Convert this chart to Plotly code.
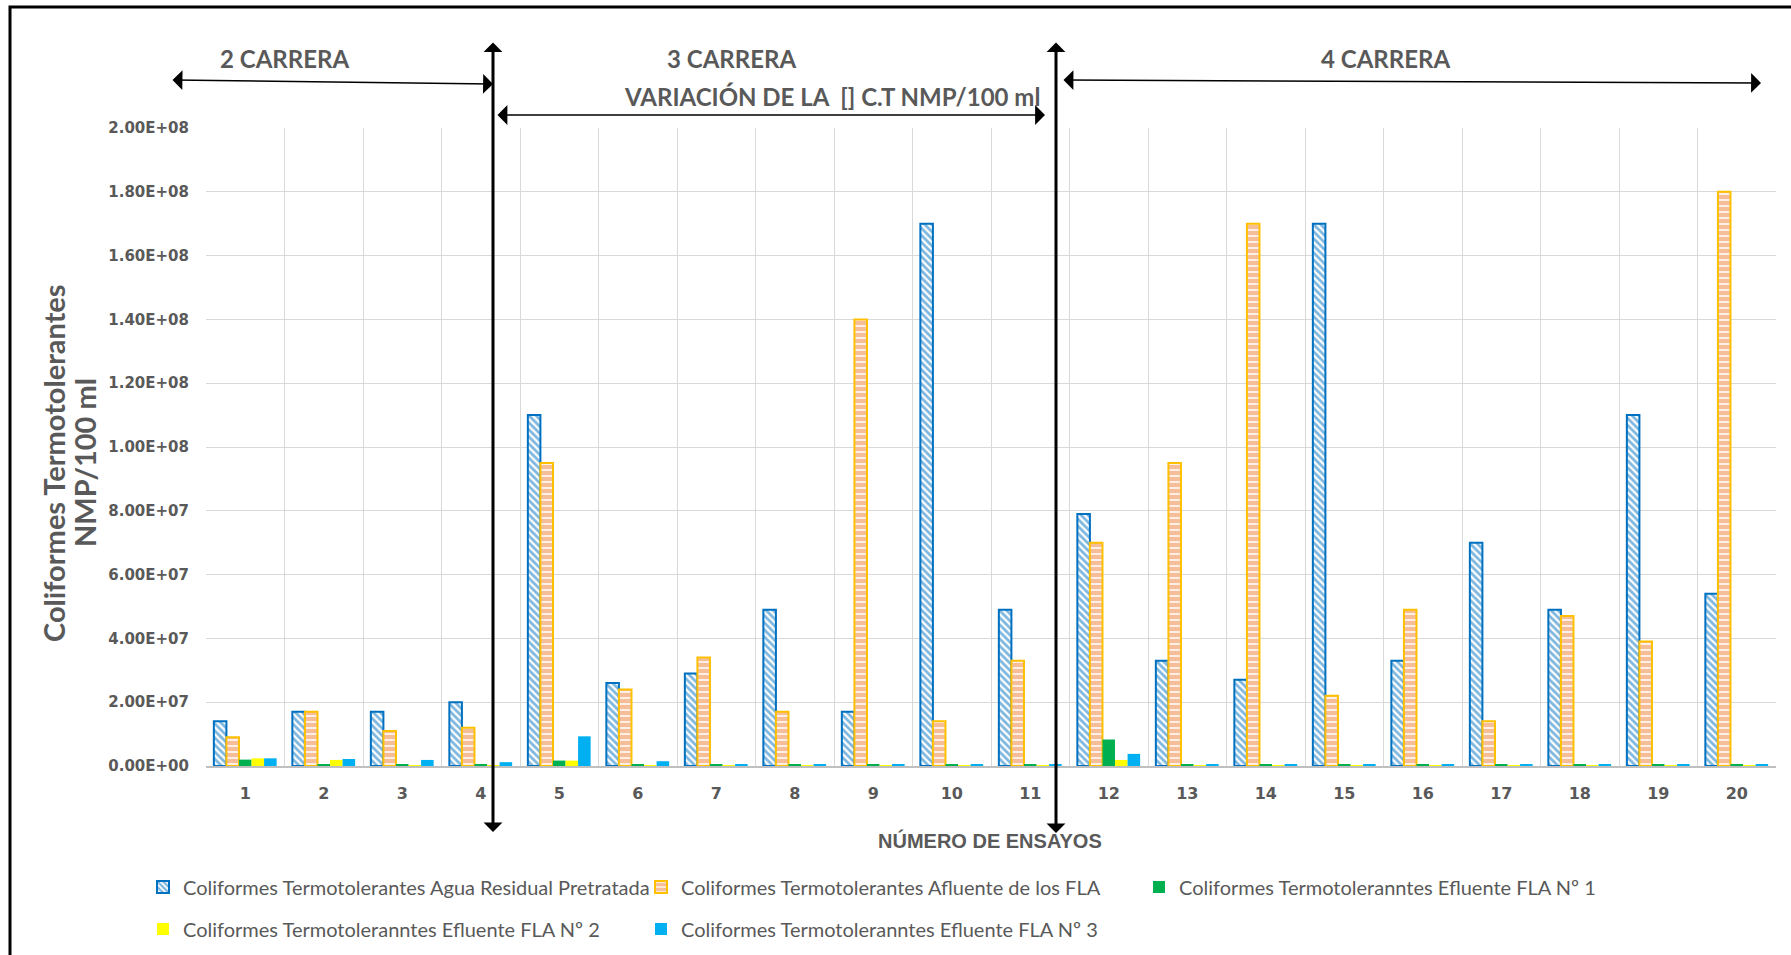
import plotly.graph_objects as go

# Test numbers (Número de ensayos)
ensayos = [str(i) for i in range(1, 21)]

# Coliformes termotolerantes, NMP/100 ml
agua_residual = [1.4e7, 1.7e7, 1.7e7, 2.0e7, 1.1e8, 2.6e7, 2.9e7, 4.9e7, 1.7e7, 1.7e8,
                 4.9e7, 7.9e7, 3.3e7, 2.7e7, 1.7e8, 3.3e7, 7.0e7, 4.9e7, 1.1e8, 5.4e7]
afluente_fla = [9.0e6, 1.7e7, 1.1e7, 1.2e7, 9.5e7, 2.4e7, 3.4e7, 1.7e7, 1.4e8, 1.4e7,
                3.3e7, 7.0e7, 9.5e7, 1.7e8, 2.2e7, 4.9e7, 1.4e7, 4.7e7, 3.9e7, 1.8e8]
efluente_fla1 = [2.0e6, 4.6e5, 4.6e5, 4.6e5, 1.7e6, 4.6e5, 4.6e5, 4.6e5, 4.6e5, 4.6e5,
                 4.6e5, 8.3e6, 4.6e5, 4.6e5, 4.6e5, 4.6e5, 4.6e5, 4.6e5, 4.6e5, 4.6e5]
efluente_fla2 = [2.4e6, 1.9e6, 2.4e5, 2.4e5, 1.7e6, 2.4e5, 2.4e5, 2.4e5, 2.4e5, 2.4e5,
                 2.4e5, 1.9e6, 2.4e5, 2.4e5, 2.4e5, 2.4e5, 2.4e5, 2.4e5, 2.4e5, 2.4e5]
efluente_fla3 = [2.4e6, 2.2e6, 1.9e6, 1.2e6, 9.3e6, 1.5e6, 4.6e5, 4.6e5, 4.6e5, 4.6e5,
                 4.6e5, 3.8e6, 4.6e5, 4.6e5, 4.6e5, 4.6e5, 4.6e5, 4.6e5, 4.6e5, 4.6e5]

series_names = [
    "Coliformes Termotolerantes Agua Residual Pretratada",
    "Coliformes Termotolerantes Afluente de los FLA",
    "Coliformes Termotoleranntes Efluente FLA Nº 1",
    "Coliformes Termotoleranntes Efluente FLA Nº 2",
    "Coliformes Termotoleranntes Efluente FLA Nº 3",
]

y_tick_values = [0, 2e7, 4e7, 6e7, 8e7, 1e8, 1.2e8, 1.4e8, 1.6e8, 1.8e8, 2e8]
y_tick_labels = [f"{v:.2E}" for v in y_tick_values]

# Page geometry (pixels)
W, H = 1791, 955
L, R, T, B = 206, 15, 128, 189
PW, PH = W - L - R, H - T - B


def px(x):
    return (x - L) / PW


def py(y):
    return (H - B - y) / PH


GREY = "#595959"
HUMANIST = "Lato, Liberation Sans, sans-serif"
SANS = "Liberation Sans, Arial, sans-serif"

fig = go.Figure()

fig.add_trace(go.Bar(
    x=ensayos, y=agua_residual, name=series_names[0], legend="legend",
    marker=dict(color="#0070C0", line=dict(color="#0070C0", width=2),
                pattern=dict(shape="\\", fgcolor="#0070C0", bgcolor="white",
                             size=5, solidity=0.55)),
))
fig.add_trace(go.Bar(
    x=ensayos, y=afluente_fla, name=series_names[1], legend="legend",
    marker=dict(color="#ED7D31", line=dict(color="#FFC000", width=2),
                pattern=dict(shape="-", fgcolor="#ED7D31", bgcolor="white",
                             size=6, solidity=0.75)),
))
fig.add_trace(go.Bar(
    x=ensayos, y=efluente_fla1, name=series_names[2], legend="legend",
    marker=dict(color="#00B050", line=dict(width=0)),
))
fig.add_trace(go.Bar(
    x=ensayos, y=efluente_fla2, name=series_names[3], legend="legend2",
    marker=dict(color="#FFFF00", line=dict(width=0)),
))
fig.add_trace(go.Bar(
    x=ensayos, y=efluente_fla3, name=series_names[4], legend="legend2",
    marker=dict(color="#00B0F0", line=dict(width=0)),
))

legend_style = dict(
    orientation="h", xanchor="left", yanchor="middle",
    entrywidth=453, entrywidthmode="pixels",
    font=dict(family=HUMANIST, size=20, color=GREY),
    bgcolor="rgba(0,0,0,0)", itemclick=False, itemdoubleclick=False,
)

fig.update_layout(
    width=W, height=H,
    margin=dict(l=L, r=R, t=T, b=B, pad=0, autoexpand=False),
    paper_bgcolor="white", plot_bgcolor="white",
    barmode="group", bargap=0.2, bargroupgap=0,
    showlegend=True,
    legend=dict(x=px(143), y=py(887), **legend_style),
    legend2=dict(x=px(143), y=py(929), **legend_style),
    xaxis=dict(
        type="category", tickson="boundaries", ticks="", showgrid=True,
        gridcolor="#D9D9D9", gridwidth=1.3,
        showline=True, linecolor="#BFBFBF", linewidth=2,
        tickfont=dict(family="DejaVu Sans", size=16, color=GREY, weight="bold"),
        ticklabelstandoff=12,
    ),
    yaxis=dict(
        range=[0, 2e8], tickvals=y_tick_values, ticktext=y_tick_labels,
        showgrid=True, gridcolor="#D9D9D9", gridwidth=1.3, zeroline=False,
        ticks="", ticklabelstandoff=16,
        tickfont=dict(family="DejaVu Sans", size=15, color=GREY, weight="bold"),
    ),
)

# Axis titles (vertical one set as two rotated lines)
for line, cx in [("Coliformes Termotolerantes", 53), ("NMP/100 ml", 84)]:
    fig.add_annotation(
        x=px(cx), y=py(463), xref="paper", yref="paper", showarrow=False,
        xanchor="center", yanchor="middle", text=line, textangle=-90,
        font=dict(family=HUMANIST, size=29, color=GREY, weight="bold"),
    )
fig.add_annotation(
    x=px(990), y=py(840), xref="paper", yref="paper", showarrow=False,
    xanchor="center", yanchor="middle",
    text="NÚMERO DE ENSAYOS",
    font=dict(family=SANS, size=20, color=GREY, weight="bold"),
)

# Run labels
for label, cx, cy in [("2 CARRERA", 284, 59), ("3 CARRERA", 731, 59),
                      ("VARIACIÓN DE LA \u00a0[] C.T NMP/100 ml", 832, 97),
                      ("4 CARRERA", 1385, 59)]:
    fig.add_annotation(
        x=px(cx), y=py(cy), xref="paper", yref="paper", showarrow=False,
        xanchor="center", yanchor="middle",
        text=label, font=dict(family=HUMANIST, size=24, color=GREY, weight="bold"),
    )


def arrow(x0, y0, x1, y1, width, size):
    fig.add_annotation(
        x=px(x1), y=py(y1), xref="paper", yref="paper",
        ax=x0 - x1, ay=y0 - y1, axref="pixel", ayref="pixel",
        text="", showarrow=True, arrowside="end+start",
        arrowhead=1, arrowsize=size, arrowwidth=width, arrowcolor="black",
    )


# Horizontal spans of each run
arrow(171, 80, 493, 84, 1.5, 2.2)
arrow(496, 115, 1045, 115, 1.5, 2.2)
arrow(1062, 80, 1761, 83, 1.5, 2.2)
# Vertical separators between runs
arrow(493, 41, 493, 832, 3, 1.05)
arrow(1056, 41, 1056, 833, 3, 1.05)

# Outer frame
fig.add_shape(type="rect", xref="paper", yref="paper",
              x0=px(10), y0=py(7), x1=px(1800), y1=py(970),
              line=dict(color="black", width=3), fillcolor="rgba(0,0,0,0)")

fig.write_html("out.html")
